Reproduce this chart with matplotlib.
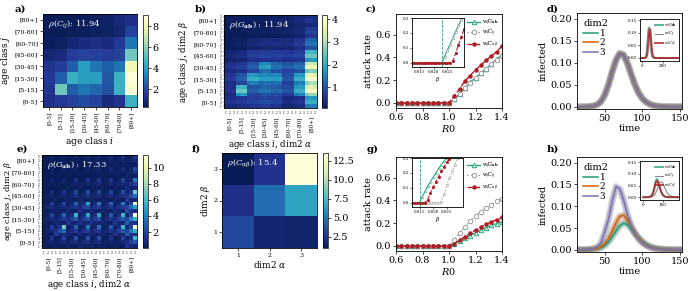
import numpy as np
import matplotlib
matplotlib.use('Agg')
import matplotlib.pyplot as plt
import matplotlib.ticker as ticker

plt.rcParams['font.family'] = 'DejaVu Serif'
plt.rcParams['mathtext.fontset'] = 'dejavuserif'
plt.rcParams['axes.linewidth'] = 0.6

AGE_CLASSES = ['[0-5]', '[5-15]', '[15-30]', '[30-45]', '[45-60]', '[60-70]', '[70-80]', '[80+]']
DIM2 = ['1', '2', '3']

# age contact matrix, rows = age class j (bottom to top), cols = age class i
C_AGE = np.array([
    [1.2, 1.5, 1.8, 2.0, 1.8, 1.0, 1.3, 4.5],
    [1.3, 5.5, 2.5, 3.0, 2.7, 2.2, 4.5, 8.8],
    [1.5, 2.5, 4.5, 4.0, 4.0, 2.3, 4.5, 9.1],
    [1.3, 1.6, 2.5, 4.0, 3.0, 2.5, 3.0, 8.2],
    [0.8, 1.0, 1.6, 1.8, 1.7, 1.6, 1.8, 5.5],
    [0.4, 0.5, 0.8, 1.0, 1.1, 1.0, 1.5, 3.0],
    [0.3, 0.3, 0.4, 0.4, 0.5, 0.6, 0.8, 1.8],
    [0.3, 0.3, 0.3, 0.4, 0.5, 0.6, 0.9, 1.2],
])
# dim2 weights inside each age block (rows beta, cols alpha)
W_B = np.array([
    [0.30, 0.33, 0.32],
    [0.45, 0.44, 0.46],
    [0.38, 0.40, 0.37],
])
W_E = np.array([
    [0.31, 0.15, 0.14],
    [0.22, 0.43, 0.61],
    [0.09, 0.23, 1.27],
])
# dim2 contact matrix, rows beta, cols alpha
C_DIM2 = np.array([
    [3.3, 1.6, 1.5],
    [2.3, 4.6, 6.5],
    [1.0, 2.4, 13.5],
])
CB_TICKS_A = [2, 4, 6, 8]
CB_TICKS_B = [1, 2, 3, 4]
CB_TICKS_E = [2, 4, 6, 8, 10]
CB_TICKS_F = [2.5, 5.0, 7.5, 10.0, 12.5]

R0 = [0.60, 0.64, 0.68, 0.72, 0.76, 0.80, 0.84, 0.88, 0.92, 0.96, 1.00,
      1.04, 1.08, 1.12, 1.16, 1.20, 1.24, 1.28, 1.32, 1.36, 1.40]
Z11 = [0.0] * 11
AR_C_G = Z11 + [0.03, 0.08, 0.13, 0.18, 0.22, 0.26, 0.30, 0.34, 0.385, 0.42]
AR_C_CIJ = Z11 + [0.03, 0.08, 0.13, 0.175, 0.22, 0.26, 0.30, 0.34, 0.38, 0.415]
AR_C_CAB = Z11 + [0.06, 0.124, 0.19, 0.24, 0.29, 0.33, 0.375, 0.41, 0.45, 0.50]
AR_G_G = Z11 + [0.02, 0.04, 0.07, 0.09, 0.115, 0.14, 0.16, 0.18, 0.195, 0.21]
AR_G_CIJ = Z11 + [0.05, 0.11, 0.17, 0.22, 0.26, 0.30, 0.33, 0.36, 0.39, 0.415]
AR_G_CAB = Z11 + [0.02, 0.05, 0.08, 0.11, 0.14, 0.165, 0.19, 0.21, 0.23, 0.25]

BETA = [0.012, 0.013, 0.014, 0.015, 0.016, 0.017, 0.018, 0.019, 0.020, 0.021,
        0.022, 0.023, 0.024, 0.025, 0.026, 0.027, 0.028, 0.029, 0.030, 0.031]
IN_C_G = [0] * 12 + [0.042, 0.083, 0.125, 0.167, 0.21, 0.25, 0.29, 0.33]
IN_C_CIJ = [0] * 12 + [0.04, 0.08, 0.12, 0.165, 0.205, 0.245, 0.285, 0.325]
IN_C_CAB = [0] * 15 + [0.01, 0.064, 0.118, 0.17, 0.225]
IN_G_G = [0] * 4 + [0.04, 0.075, 0.11, 0.14, 0.17, 0.20, 0.23, 0.255, 0.28, 0.30,
                    0.325, 0.35, 0.37, 0.39, 0.41, 0.43]
IN_G_CIJ = [0] * 11 + [0.005, 0.06, 0.115, 0.165, 0.21, 0.255, 0.30, 0.34, 0.38]
IN_G_CAB = [0] * 6 + [0.02, 0.065, 0.105, 0.14, 0.175, 0.21, 0.24, 0.27, 0.295,
                      0.32, 0.345, 0.37, 0.39, 0.41]
THRESH_C = 0.023
THRESH_G = 0.015

TIME = [10, 15, 20, 25, 30, 35, 40, 45, 50, 55, 60, 65, 70, 75, 80, 85, 90, 95,
        100, 105, 110, 115, 120, 125, 130, 135, 140, 145, 150, 155]
INF_D = [0, 0, 0, 0.0003, 0.0008, 0.002, 0.005, 0.012, 0.027, 0.05, 0.08, 0.106,
         0.121, 0.118, 0.1, 0.075, 0.051, 0.032, 0.019, 0.011, 0.006, 0.003,
         0.0017, 0.0009, 0.0005, 0.0003, 0.0001, 0, 0, 0]
INF_H_1 = [0, 0, 0.0001, 0.0003, 0.0005, 0.0012, 0.0025, 0.005, 0.01, 0.018, 0.03,
           0.043, 0.055, 0.061, 0.058, 0.049, 0.038, 0.028, 0.019, 0.013, 0.008,
           0.005, 0.003, 0.0018, 0.001, 0.0006, 0.0003, 0.0002, 0.0001, 0]
INF_H_2 = [0, 0, 0.0002, 0.0004, 0.0008, 0.0017, 0.0035, 0.007, 0.014, 0.026, 0.043,
           0.062, 0.077, 0.079, 0.069, 0.054, 0.039, 0.027, 0.018, 0.011, 0.007,
           0.004, 0.0025, 0.0015, 0.0009, 0.0005, 0.0003, 0.0002, 0.0001, 0]
INF_H_3 = [0, 0, 0.0002, 0.0005, 0.0012, 0.003, 0.007, 0.016, 0.041, 0.07, 0.112,
           0.145, 0.14, 0.115, 0.083, 0.057, 0.038, 0.025, 0.016, 0.01, 0.006,
           0.0035, 0.002, 0.0012, 0.0007, 0.0004, 0.0002, 0.0001, 0, 0]

TIME_IN = [0, 20, 30, 40, 45, 50, 55, 60, 65, 70, 75, 80, 85, 90, 95, 100, 105,
           110, 115, 120, 130, 150, 200, 250, 300, 350]
IN_D_G = [0, 0, 0.0005, 0.005, 0.015, 0.035, 0.065, 0.095, 0.115, 0.12, 0.108,
          0.08, 0.05, 0.028, 0.014, 0.007, 0.003, 0.0015, 0.0008, 0.0005, 0, 0, 0, 0, 0, 0]
IN_D_CIJ = [0, 0, 0.0005, 0.004, 0.013, 0.032, 0.062, 0.093, 0.116, 0.122, 0.11,
            0.082, 0.052, 0.029, 0.015, 0.007, 0.003, 0.0015, 0.0008, 0.0005, 0, 0, 0, 0, 0, 0]
IN_D_CAB = [0, 0, 0, 0.001, 0.003, 0.008, 0.018, 0.038, 0.066, 0.094, 0.112,
            0.114, 0.098, 0.07, 0.043, 0.023, 0.011, 0.005, 0.002, 0.001, 0.0003, 0, 0, 0, 0, 0]
IN_H_G = [0, 0, 0.001, 0.005, 0.01, 0.02, 0.035, 0.055, 0.072, 0.078, 0.072,
          0.058, 0.042, 0.028, 0.018, 0.011, 0.006, 0.003, 0.002, 0.001, 0, 0, 0, 0, 0, 0]
IN_H_CIJ = [0, 0, 0, 0.001, 0.002, 0.004, 0.008, 0.012, 0.02, 0.03, 0.042,
            0.053, 0.061, 0.065, 0.065, 0.061, 0.052, 0.042, 0.032, 0.023, 0.011, 0.002, 0, 0, 0, 0]
IN_H_CAB = [0, 0, 0.001, 0.004, 0.008, 0.016, 0.03, 0.048, 0.064, 0.07, 0.067,
            0.055, 0.041, 0.028, 0.018, 0.011, 0.006, 0.003, 0.002, 0.001, 0, 0, 0, 0, 0, 0]

GREEN = '#2aa57e'
GRAY = '#9a9a9a'
RED = '#b01c22'
DIM2_COLORS = ['#1b9e77', '#d95f02', '#7570b3']
LAB_G = r'w/$G_{\bf ab}$'
LAB_CIJ = r'w/$C_{ij}$'
LAB_CAB = r'w/$C_{\alpha\beta}$'

W, H = 688, 291


def px_axes(fig, left, top, right, bottom):
    return fig.add_axes([left / W, 1 - bottom / H, (right - left) / W, (bottom - top) / H])


def heatmap(fig, box, cbox, mat, rho_text, cticks):
    ax = px_axes(fig, *box)
    mesh = ax.pcolormesh(mat, cmap='YlGnBu_r')
    ax.set_xlim(0, mat.shape[1])
    ax.set_ylim(0, mat.shape[0])
    cax = px_axes(fig, *cbox)
    cb = fig.colorbar(mesh, cax=cax, ticks=cticks)
    cb.ax.tick_params(labelsize=7, length=2, width=0.5, pad=1.5)
    cb.outline.set_linewidth(0.5)
    ax.text(0.05, 0.96, rho_text, transform=ax.transAxes, color='white',
            fontsize=6, va='top')
    return ax


def age_ticks(ax, n_sub):
    centers = [n_sub * k + n_sub / 2 for k in range(len(AGE_CLASSES))]
    ax.set_xticks(centers)
    ax.set_xticklabels(AGE_CLASSES, rotation=90, fontsize=4)
    ax.set_yticks(centers)
    ax.set_yticklabels(AGE_CLASSES, fontsize=4.5)
    if n_sub > 1:
        sub = [k + 0.5 for k in range(n_sub * len(AGE_CLASSES))]
        for axis in (ax.xaxis, ax.yaxis):
            axis.remove_overlapping_locs = False
            axis.set_ticks(sub, minor=True)
            axis.set_ticklabels(DIM2 * len(AGE_CLASSES), minor=True, fontsize=2.2)
        ax.tick_params(which='minor', length=1, width=0.3, pad=0.8)
        ax.tick_params(axis='x', which='major', length=0, pad=6)
        ax.tick_params(axis='y', which='major', length=0, pad=5)
    else:
        ax.tick_params(length=2, width=0.5, pad=1.5)


def ylabel_at(ax, text, x_px, size):
    # y label's right side sits at a fixed pixel column
    ax.set_ylabel(text, fontsize=size)
    x0 = ax.get_position().x0 * W
    ax.yaxis.set_label_coords((x_px - x0) / (ax.get_position().width * W), 0.5)


def panel_letter(fig, x, y, s):
    fig.text(x / W, 1 - y / H, s, fontsize=7.5, fontweight='bold', va='center')


fig = plt.figure(figsize=(6.88, 2.91), dpi=100)

# a) age contact matrix
ax = heatmap(fig, (43, 14, 137, 107), (143, 15, 148, 107), C_AGE,
             r'$\rho(C_{ij})$: 11.94', CB_TICKS_A)
age_ticks(ax, 1)
ax.set_xlabel(r'age class $i$', fontsize=6.5, labelpad=2)
ax.set_ylabel(r'age class $j$', fontsize=6.5, labelpad=2)

# b) generalized matrix, uniform dim2
ax = heatmap(fig, (224, 15, 317, 108), (322, 15, 327, 108), np.kron(C_AGE, W_B),
             r'$\rho(G_{\bf ab})$ : 11.94', CB_TICKS_B)
age_ticks(ax, 3)
ax.set_xlabel(r'age class $i$, dim2 $\alpha$', fontsize=6.3, labelpad=1)
ylabel_at(ax, r'age class $j$, dim2 $\beta$', 190, 6.2)

# e) generalized matrix, structured dim2
ax = heatmap(fig, (42, 155, 137, 248), (143, 155, 148, 248), np.kron(C_AGE, W_E),
             r'$\rho(G_{\bf ab})$ : 17.33', CB_TICKS_E)
age_ticks(ax, 3)
ax.set_xlabel(r'age class $i$, dim2 $\alpha$', fontsize=6.3, labelpad=1)
ylabel_at(ax, r'age class $j$, dim2 $\beta$', 14, 6.0)

# f) dim2 matrix
ax = heatmap(fig, (222, 153, 317, 248), (323, 153, 328, 248), C_DIM2,
             r'$\rho(C_{\alpha\beta})$: 15.4', CB_TICKS_F)
ax.set_xticks([0.5, 1.5, 2.5])
ax.set_xticklabels(DIM2, fontsize=4.5)
ax.set_yticks([0.5, 1.5, 2.5])
ax.set_yticklabels(DIM2, fontsize=4.5)
ax.tick_params(length=2, width=0.5, pad=1.5)
ax.set_xlabel(r'dim2 $\alpha$', fontsize=6.5, labelpad=1)
ax.set_ylabel(r'dim2 $\beta$', fontsize=6.5, labelpad=1)


def attack_panel(box, inbox, g, cij, cab, in_g, in_cij, in_cab, thresh):
    ax = px_axes(fig, *box)
    ax.plot(R0, g, '-', color=GREEN, marker='^', mfc='white', ms=3.2, mew=0.7, lw=1, label=LAB_G)
    ax.plot(R0, cij, ':', color=GRAY, marker='o', mfc='white', ms=3.2, mew=0.7, lw=1, label=LAB_CIJ)
    ax.plot(R0, cab, '--', color=RED, marker='o', ms=2.2, lw=1, label=LAB_CAB)
    ax.set_xlim(0.6, 1.4)
    ax.set_ylim(-0.045, 0.78)
    ax.set_xticks([0.6, 0.8, 1.0, 1.2, 1.4])
    ax.set_yticks([0.0, 0.2, 0.4, 0.6])
    ax.tick_params(labelsize=7, length=2, width=0.5, pad=1.5)
    ax.set_xlabel(r'$R0$', fontsize=7, labelpad=1)
    ax.set_ylabel('attack rate', fontsize=7, labelpad=2)
    ax.legend(loc='upper right', fontsize=3.6, frameon=False, handlelength=2.6,
              handletextpad=0.3, borderaxespad=0.3, labelspacing=0.3)

    axi = px_axes(fig, *inbox)
    axi.plot(BETA, in_g, '-', color=GREEN, marker='^', mfc='white', ms=1.6, mew=0.4, lw=0.8)
    axi.plot(BETA, in_cij, ':', color=GRAY, marker='o', mfc='white', ms=1.6, mew=0.4, lw=0.8)
    axi.plot(BETA, in_cab, '--', color=RED, marker='o', ms=1.2, lw=0.8)
    axi.axvline(thresh, color=GREEN, ls='--', lw=0.6)
    axi.set_xlim(0.0122, 0.031)
    axi.set_ylim(-0.03, 0.3)
    axi.set_xticks([0.015, 0.020, 0.025])
    axi.set_yticks([0.0, 0.1, 0.2, 0.3])
    axi.xaxis.set_major_formatter(ticker.FormatStrFormatter('%.3f'))
    axi.yaxis.set_major_formatter(ticker.FormatStrFormatter('%.1f'))
    axi.tick_params(labelsize=2.9, length=1.2, width=0.4, pad=1)
    axi.set_xlabel(r'$\beta$', fontsize=4, labelpad=0.5)


attack_panel((396, 14, 502, 108), (412, 18, 464, 67), AR_C_G, AR_C_CIJ, AR_C_CAB,
             IN_C_G, IN_C_CIJ, IN_C_CAB, THRESH_C)
attack_panel((396, 157, 502, 251), (412, 158, 463, 207), AR_G_G, AR_G_CIJ, AR_G_CAB,
             IN_G_G, IN_G_CIJ, IN_G_CAB, THRESH_G)


def infected_panel(box, inbox, curves, in_g, in_cij, in_cab, in_xlim, in_xticks):
    ax = px_axes(fig, *box)
    for y in curves:
        ax.plot(TIME, y, color='#aaaaaa', lw=5, alpha=0.45, solid_capstyle='butt')
    for y, col in zip(curves, DIM2_COLORS):
        ax.plot(TIME, y, color=col, lw=3.5, alpha=0.3)
    for y, col, lab in zip(curves, DIM2_COLORS, DIM2):
        ax.plot(TIME, y, color=col, lw=1.1, label=lab)
    ax.set_xlim(13, 153)
    ax.set_ylim(-0.005, 0.213)
    ax.set_xticks([50, 100, 150])
    ax.set_yticks([0.0, 0.05, 0.10, 0.15, 0.20])
    ax.yaxis.set_major_formatter(ticker.FormatStrFormatter('%.2f'))
    ax.tick_params(labelsize=7, length=2, width=0.5, pad=1.5)
    ax.set_xlabel('time', fontsize=7, labelpad=1)
    ax.set_ylabel('infected', fontsize=7, labelpad=2)
    leg = ax.legend(loc='upper left', title='dim2', fontsize=6.5, title_fontsize=7,
                    frameon=False, handlelength=1.6, handletextpad=0.2,
                    labelspacing=0.05, borderaxespad=0.3)
    leg._legend_box.align = 'left'

    axi = px_axes(fig, *inbox)
    axi.plot(TIME_IN, in_g, color=GREEN, lw=1.4, alpha=0.8, label=LAB_G)
    axi.plot(TIME_IN, in_cij, color='#888888', lw=0.8, label=LAB_CIJ)
    axi.plot(TIME_IN, in_cab, color=RED, lw=1.4, alpha=0.8, label=LAB_CAB)
    axi.set_xlim(*in_xlim)
    axi.set_ylim(-0.012, 0.155)
    axi.set_xticks(in_xticks)
    axi.set_yticks([0.0, 0.05, 0.10, 0.15])
    axi.yaxis.set_major_formatter(ticker.FormatStrFormatter('%.2f'))
    axi.tick_params(labelsize=3, length=1.2, width=0.4, pad=1)
    axi.legend(loc='upper right', fontsize=2.6, frameon=False, handlelength=2.2,
               handletextpad=0.3, labelspacing=0.2, borderaxespad=0.2)


infected_panel((577, 13, 682, 109), (640, 19, 679, 61), [INF_D, INF_D, INF_D],
               IN_D_G, IN_D_CIJ, IN_D_CAB, (-15, 350), [0, 200])
infected_panel((577, 157, 682, 252), (640, 161, 679, 200), [INF_H_1, INF_H_2, INF_H_3],
               IN_H_G, IN_H_CIJ, IN_H_CAB, (-17, 184), [0, 100])

for x, y, s in [(15, 9, 'a)'), (195, 9, 'b)'), (366, 9, 'c)'), (547, 9, 'd)'),
                (17, 149, 'e)'), (192, 149, 'f)'), (367, 149, 'g)'), (547, 149, 'h)')]:
    panel_letter(fig, x, y, s)

fig.savefig('out.png', dpi=100)
